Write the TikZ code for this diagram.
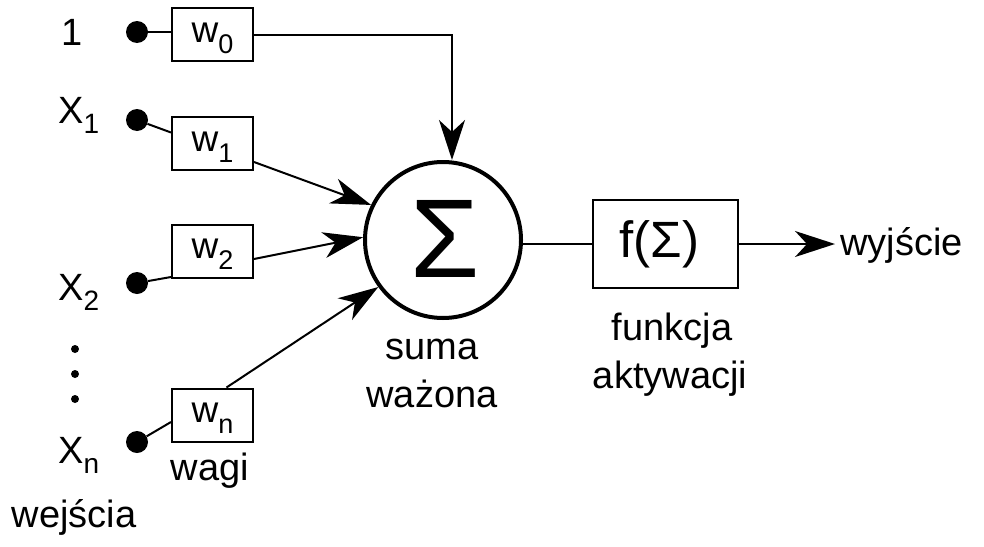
\documentclass[tikz,border=0pt]{standalone}
\usepackage{fontspec}
\setmainfont{Liberation Sans}
\usetikzlibrary{arrows.meta,calc}
\newcommand\wsub[1]{\raisebox{-11pt}{\fontsize{27}{27}\selectfont #1}}
\newcommand\xsub[1]{\raisebox{-10pt}{\fontsize{28}{28}\selectfont #1}}
\begin{document}
\begin{tikzpicture}[x=1pt,y=-1pt,
  lbl/.style={font=\fontsize{38}{42}\selectfont, inner sep=0pt},
  wbox/.style={draw, line width=2pt, minimum width=81pt, minimum height=53pt, inner sep=0pt,
    text height=20pt, text depth=5pt, font=\fontsize{37}{40}\selectfont},
  term/.style={circle, fill, inner sep=0pt, minimum size=22pt},
  edot/.style={circle, fill, inner sep=0pt, minimum size=8pt},
  conn/.style={line width=2pt},
  arr/.style={line width=2pt, -{Stealth[length=40pt, width=26pt, inset=12pt]}},
]
\useasboundingbox (0,0) rectangle (984,546);

% input terminals
\node[term] (t0) at (137,32) {};
\node[term] (t1) at (137,120) {};
\node[term] (t2) at (137,283) {};
\node[term] (tn) at (137,442) {};
\node[edot] (d1) at (75,349) {};
\node[edot] (d2) at (75,374) {};
\node[edot] (d3) at (75,399) {};

% input labels
\node[lbl, anchor=base] (l0) at (72,45) {1};
\node[lbl, anchor=base west] (l1) at (58,123) {X\xsub{1}};
\node[lbl, anchor=base west] (l2) at (58,300) {X\xsub{2}};
\node[lbl, anchor=base west] (ln) at (58,463) {X\xsub{n}};
\node[lbl, anchor=base] (lin) at (74,527) {wejścia};

% weight boxes
\node[wbox] (w0) at (212.5,34.5) {w\wsub{0}};
\node[wbox] (w1) at (212.5,143.5) {w\wsub{1}};
\node[wbox] (w2) at (212.5,251) {w\wsub{2}};
\node[wbox] (wn) at (212.5,415) {w\wsub{n}};
\node[lbl, anchor=base] (lw) at (210,480) {wagi};

% sum
\node[circle, draw, line width=4pt, minimum size=156pt, inner sep=0pt, font=\fontsize{112}{112}\selectfont] (sum) at (443,240) {$\,$\raisebox{2pt}{Σ}};
\node[lbl, anchor=base] (ls1) at (432,359) {suma};
\node[lbl, anchor=base] (ls2) at (432,407) {ważona};

% activation
\node[draw, line width=2pt, minimum width=145pt, minimum height=88pt, inner sep=0pt, font=\fontsize{51}{51}\selectfont] (f) at (665.5,244) {f(Σ)\hspace*{12pt}};
\node[lbl, anchor=base] (lf1) at (672,340) {funkcja};
\node[lbl, anchor=base] (lf2) at (670,388) {aktywacji};

\node[lbl, anchor=base west] (out) at (840,255) {wyjście};

% terminal to box connectors
\draw[conn] (t0) -- (t0 -| w0.west);
\draw[conn] (t1) -- ($(w1.west)+(0,-11)$);
\draw[conn] (t2) -- ($(w2.west)+(0,26)$);
\draw[conn] (tn) -- ($(wn.west)+(0,7)$);

% box to sum
\draw[arr] (w0.east) -| ([xshift=9pt]sum.north);
\draw[arr] ($(w1.south east)+(0,-9)$) -- (sum.154);
\draw[arr] ($(w2.east)+(0,8)$) -- (sum.178);
\draw[arr] ($(wn.north)+(14,0)$) -- (sum.216);

% sum to activation to output
\draw[conn] (sum.east |- f.west) -- (f.west);
\draw[arr] (f.east) -- ($(f.east -| out.west)+(-5,0)$);
\end{tikzpicture}
\end{document}
